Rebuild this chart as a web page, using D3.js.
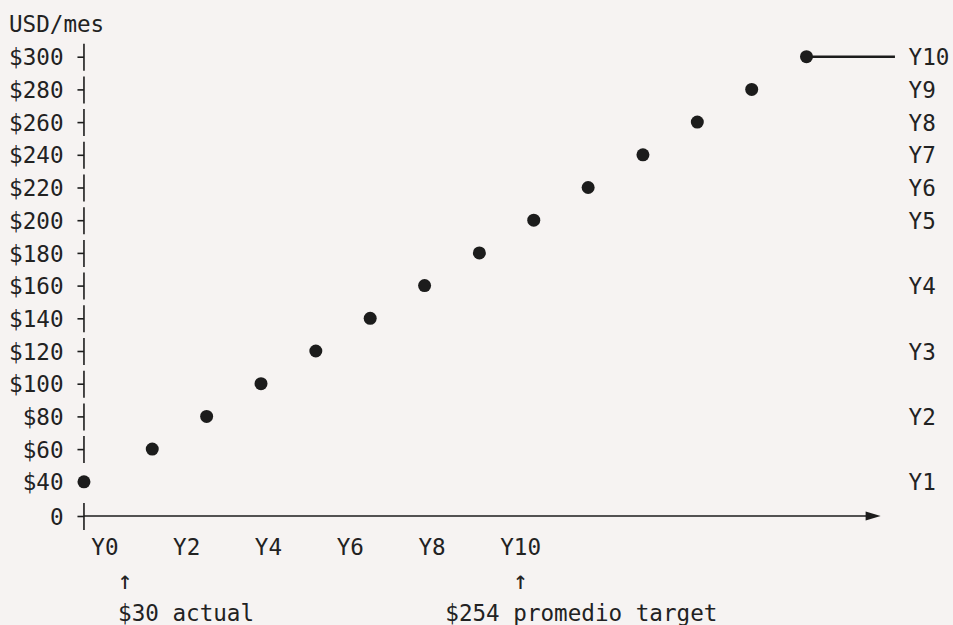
<!DOCTYPE html>
<html>
<head>
<meta charset="utf-8">
<script src="https://cdn.jsdelivr.net/npm/d3@7"></script>
<style>
  html, body { margin: 0; padding: 0; background: #f6f3f2; }
  svg { display: block; }
  text { font-family: "DejaVu Sans Mono", monospace; font-size: 22.6px; fill: #222; }
</style>
</head>
<body>
<div id="chart"></div>
<script>
// ── data ──
const unitLabel = "USD/mes";
const yTicks = [0, 40, 60, 80, 100, 120, 140, 160, 180, 200, 220, 240, 260, 280, 300];
// monthly USD per step, and horizontal position in "year" units
const values = [40, 60, 80, 100, 120, 140, 160, 180, 200, 220, 240, 260, 280, 300];
const years  = [-0.5, 1.17, 2.5, 3.83, 5.17, 6.5, 7.83, 9.17, 10.5, 11.83, 13.17, 14.5, 15.83, 17.17];
const xTicks = [0, 2, 4, 6, 8, 10];
const rightLabels = ["Y10", "Y9", "Y8", "Y7", "Y6", "Y5", "Y4", "Y3", "Y2", "Y1"];
const rightValues = [300, 280, 260, 240, 220, 200, 160, 120, 80, 40];
const notes = [
  { text: "$30 actual", year: 0.5 },
  { text: "$254 promedio target", year: 10.17 },
];

// ── layout (text grid) ──
const W = 953, H = 625;
const CW = 13.63;            // monospace column width
const RH = 32.7;             // row height
const X0 = 9;                // left of column 0
const row = (r) => 24 + r * RH;
const col = (c) => X0 + c * CW;   // left edge of a column
const ink = "#1c1c1c";

const svg = d3.select("#chart").append("svg").attr("width", W).attr("height", H);

// y: "0" sits one row below $40, the rest are one row per $20
const y = d3.scaleLinear().domain([0, 40, 300]).range([row(15) + 1.5, row(14), row(1)]);
// x: 3 columns per year, Y0 tick at column 7
const x = d3.scaleLinear().domain([0, 10]).range([col(7), col(37)]);
const axisX = col(5) + CW / 2;

svg.append("text").attr("x", col(0)).attr("y", row(0)).attr("dy", "0.36em").text(unitLabel);

// left axis: labels + box-drawing style ticks
const yAx = svg.append("g").attr("transform", `translate(${axisX},0)`)
  .call(d3.axisLeft(y).tickValues(yTicks).tickSize(0).tickPadding(CW * 1.5)
    .tickFormat((d) => (d === 0 ? "0" : `$${d}`)));
yAx.select(".domain").remove();
yAx.selectAll("text").attr("dy", "0.36em")
  .attr("font-family", null).attr("font-size", null).attr("fill", "#222");
yAx.selectAll(".tick").each(function (d) {
  const t = d3.select(this);
  if (d === 40) return;   // the first point sits on the axis there
  t.append("line").attr("x1", -6.5).attr("x2", 0).attr("stroke", ink).attr("stroke-width", 1.6);
  t.append("line").attr("y1", -13.5).attr("y2", 13.5).attr("stroke", ink).attr("stroke-width", 1.6);
});

// x axis baseline with arrow
const baseY = y(0);
const arrowEnd = col(63) + CW * 0.95;
svg.append("line").attr("x1", axisX).attr("x2", arrowEnd - 12).attr("y1", baseY).attr("y2", baseY)
  .attr("stroke", ink).attr("stroke-width", 1.6);
svg.append("path")
  .attr("d", `M${arrowEnd - 15},${baseY - 4.5}L${arrowEnd},${baseY}L${arrowEnd - 15},${baseY + 4.5}Z`)
  .attr("fill", ink);

// x tick labels
const xAx = svg.append("g").attr("transform", `translate(0,${row(16)})`)
  .call(d3.axisBottom(x).tickValues(xTicks).tickSize(0).tickPadding(0).tickFormat((d) => `Y${d}`));
xAx.select(".domain").remove();
xAx.selectAll("text").attr("text-anchor", "start").attr("dx", -CW).attr("dy", "0.36em")
  .attr("font-family", null).attr("font-size", null).attr("fill", "#222");

// leader from the last point to its label
const last = values.length - 1;
svg.append("line").attr("x1", x(years[last])).attr("x2", col(65))
  .attr("y1", y(values[last])).attr("y2", y(values[last]))
  .attr("stroke", ink).attr("stroke-width", 2.6);

// points
svg.append("g").selectAll("circle").data(values).join("circle")
  .attr("cx", (d, i) => x(years[i]))
  .attr("cy", (d) => y(d))
  .attr("r", 6.5)
  .attr("fill", ink);

// right labels
const rAx = svg.append("g").attr("transform", `translate(${col(66)},0)`)
  .call(d3.axisRight(y).tickValues(rightValues).tickSize(0).tickPadding(0)
    .tickFormat((d) => rightLabels[rightValues.indexOf(d)]));
rAx.select(".domain").remove();
rAx.selectAll("text").attr("dy", "0.36em").attr("font-family", null).attr("font-size", null).attr("fill", "#222");

// annotations under the axis
const ng = svg.append("g").selectAll("g").data(notes).join("g");
ng.append("text").attr("x", (d) => x(d.year)).attr("y", row(17)).attr("dy", "0.36em")
  .attr("text-anchor", "middle").style("font-size", "25px").style("fill", "#222").text("↑");
ng.append("text")
  .attr("x", (d, i) => (i === 0 ? x(d.year) - CW / 2 : x(d.year) - CW * 5.5))
  .attr("y", row(18)).attr("dy", "0.36em").text((d) => d.text);
</script>
</body>
</html>
